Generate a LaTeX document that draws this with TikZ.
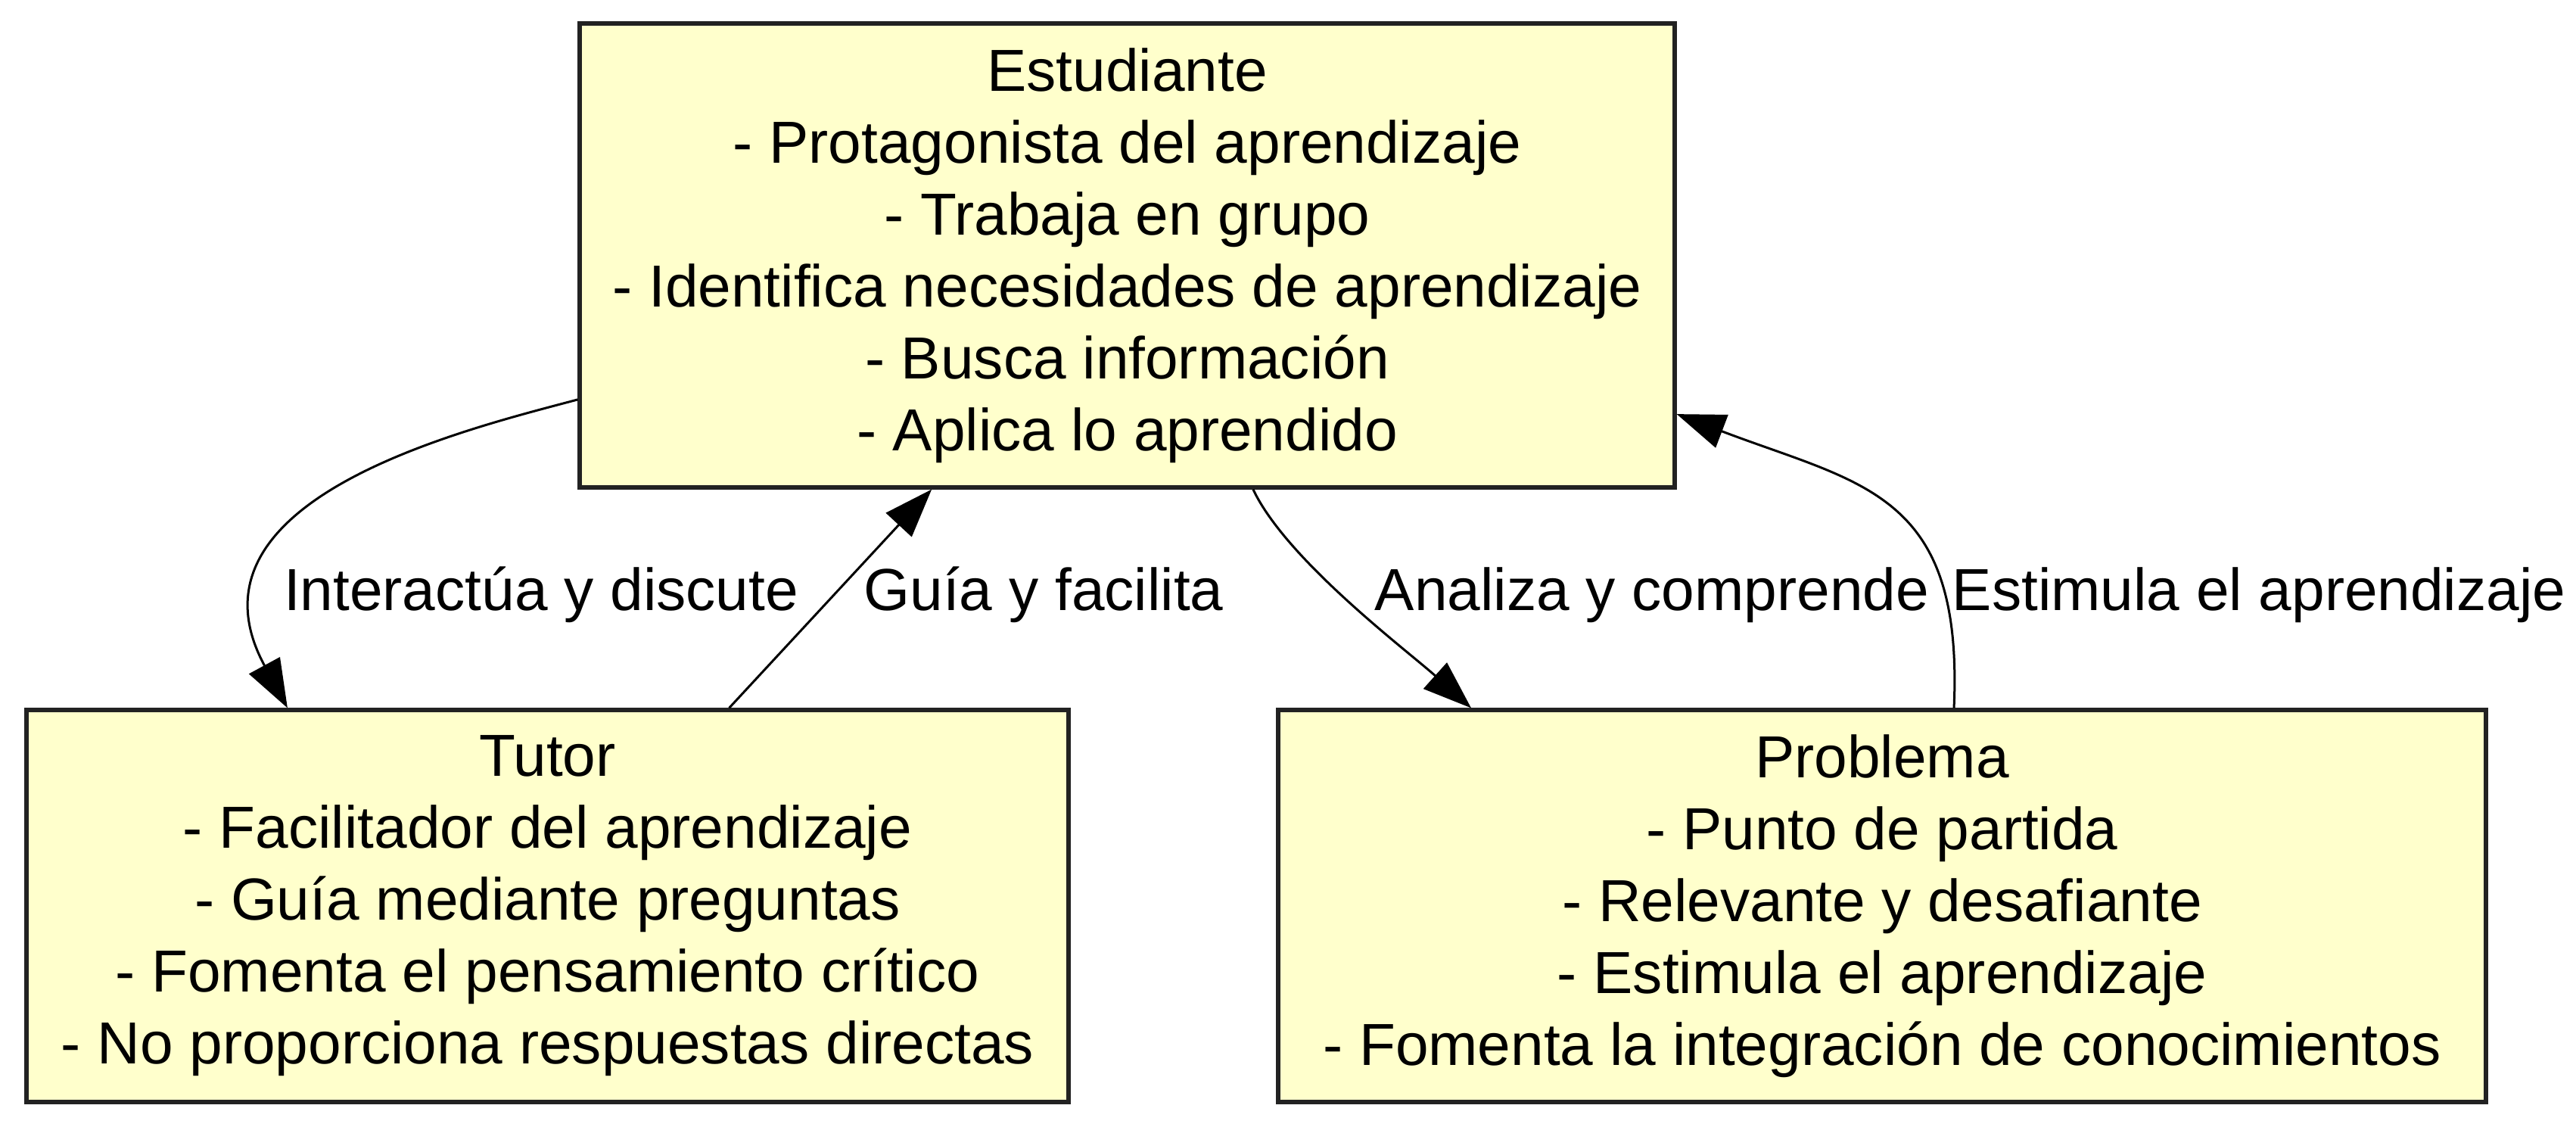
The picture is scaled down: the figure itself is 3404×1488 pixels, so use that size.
\documentclass[tikz,border=0pt]{standalone}
\usepackage{fontspec}
\setmainfont{Liberation Sans}
\usetikzlibrary{arrows.meta}
\definecolor{boxfill}{HTML}{FFFFCC}
\definecolor{boxline}{HTML}{222222}
\begin{document}
\begin{tikzpicture}[x=0.25pt,y=-0.25pt,
  txt/.style={font=\fontsize{19.6}{23.75}\selectfont, align=center, inner sep=0pt},
  card/.style={txt, draw=boxline, fill=boxfill, line width=1.3pt, rectangle},
  lbl/.style={font=\fontsize{19.6}{23.75}\selectfont, inner sep=0pt},
  conn/.style={draw=black, line width=0.75pt, -{Triangle[length=16pt,width=11.5pt]}}
]
\fill[white] (0,0) rectangle (3404,1488);
\useasboundingbox (0,0) rectangle (3404,1488);

\node[card, minimum width=361.75pt, minimum height=153.25pt] (est) at (1489.5,337.5)
  {Estudiante\\- Protagonista del aprendizaje\\- Trabaja en grupo\\- Identifica necesidades de aprendizaje\\- Busca información\\- Aplica lo aprendido};
\node[card, minimum width=344.25pt, minimum height=129.5pt] (tut) at (723.5,1197)
  {Tutor\\- Facilitador del aprendizaje\\- Guía mediante preguntas\\- Fomenta el pensamiento crítico\\- No proporciona respuestas directas};
\node[card, minimum width=399pt, minimum height=129.5pt] (prob) at (2487,1197)
  {Problema\\- Punto de partida\\- Relevante y desafiante\\- Estimula el aprendizaje\\- Fomenta la integración de conocimientos};

\node[lbl] (l1) at (715,786) {Interactúa y discute};
\node[lbl] (l2) at (1379,786) {Guía y facilita};
\node[lbl] (l3) at (2183,786) {Analiza y comprende};
\node[lbl] (l4) at (2985,786) {Estimula el aprendizaje};

\draw[conn] ([yshift=-47.6pt]est.west) .. controls (617,567) and (230,659) .. ([xshift=-85.9pt]tut.north);
\draw[conn] ([xshift=60pt]tut.north) -- ([xshift=-64.6pt]est.south);
\draw[conn] ([xshift=41.6pt]est.south) .. controls (1700,740) and (1860,860) .. ([xshift=-135.75pt]prob.north);
\draw[conn] ([xshift=23.75pt]prob.north) .. controls (2595,650) and (2460,640) .. ([yshift=-52.4pt]est.east);
\end{tikzpicture}
\end{document}
